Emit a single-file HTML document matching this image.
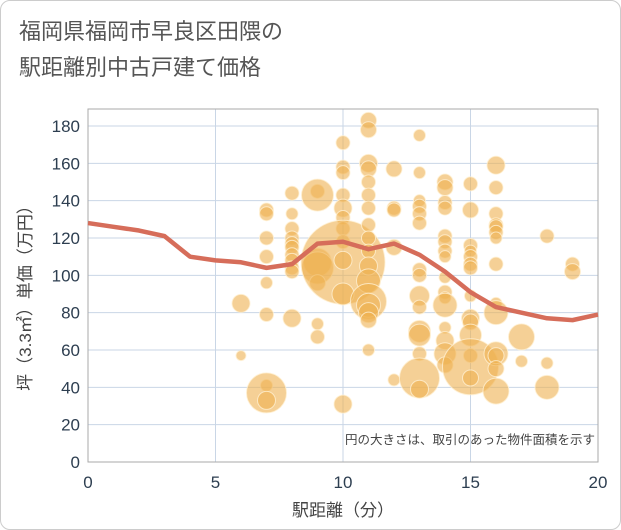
<!DOCTYPE html>
<html><head><meta charset="utf-8"><style>
body{margin:0;background:#fff;font-family:"Liberation Sans","Noto Sans CJK JP",sans-serif}
#wrap{position:relative;width:619px;height:528px;border:1px solid #ccc;border-radius:10px;overflow:hidden;background:#fff}
.title{position:absolute;left:18px;top:13px;font-size:22px;line-height:36px;color:#555}
</style></head><body>
<div id="wrap">
<div class="title">福岡県福岡市早良区田隈の<br>駅距離別中古戸建て価格</div>
<svg id="chart" width="621" height="530" style="position:absolute;left:0;top:0"></svg>
</div>
<script>
const xTicks=[0,5,10,15,20];
const yTicks=[0,20,40,60,80,100,120,140,160,180];
const bubbleX=[6,6,7,7,7,7,7,7,7,7,7,8,8,8,8,8,8,8,8,8,8,8,9,9,9,9,9,9,9,10,10,10,10,10,10,10,10,10,10,10,10,11,11,11,11,11,11,11,11,11,11,11,11,11,11,11,11,11,12,12,12,12,12,13,13,13,13,13,13,13,13,13,13,13,13,13,13,13,14,14,14,14,14,14,14,14,14,14,14,14,14,14,14,14,15,15,15,15,15,15,15,15,15,15,15,15,15,15,16,16,16,16,16,16,16,16,16,16,16,16,16,16,17,17,18,18,18,19,19];
const bubbleY=[85,57,135,133,120,110,96,79,41,37,33,144,133,125,120,117,115,111,108,104,102,77,145,143,107,104,96,74,67,171,158,155,143,136,131,125,118,107,108,90,31,183,178,160,157,150,143,136,127,120,113,105,97,86,84,80,76,60,157,136,135,115,44,175,155,140,137,133,128,103,100,89,83,70,68,58,45,39,150,147,139,136,121,118,113,110,99,91,88,84,72,65,58,52,149,135,116,113,110,106,104,89,77,75,68,57,51,45,159,147,133,127,126,123,120,106,85,80,58,57,50,38,67,54,121,53,40,106,102];
const bubbleR=[9,5,7,7,7,7,6,7,6,20,9,7,6,7,7,7,7,7,7,7,7,9,7,16,14,16,8,6,7,7,7,7,7,9,7,7,7,42,9,11,9,8,8,9,8,7,7,7,7,7,7,9,12,18,12,10,8,6,8,7,7,8,6,6,6,6,7,7,7,7,7,10,7,11,11,7,20,9,8,8,7,7,7,7,7,6,6,7,6,12,6,9,11,8,7,8,7,6,7,7,7,6,9,8,11,7,28,8,9,7,7,7,7,7,6,7,6,12,12,8,8,13,13,6,7,6,12,7,8];
const lineX=[0,1,2,3,4,5,6,7,8,9,10,11,12,13,14,15,16,17,18,19,20];
const lineY=[128,126,124,121,110,108,107,104,106,117,118,114,117,111,102,91,83,80,77,76,79];
const NS="http://www.w3.org/2000/svg";
const svg=document.getElementById('chart');
const X0=87,X1=597,Y0=461,Y1=125;
const sx=v=>X0+(v-0)/20*(X1-X0);
const sy=v=>Y0-(v/180)*(Y0-Y1);
function mk(t,a){const e=document.createElementNS(NS,t);for(const k in a)e.setAttribute(k,a[k]);svg.appendChild(e);return e;}
const bg=mk('rect',{x:X0,y:108,width:X1-X0,height:Y0-108,fill:'#fff'});


yTicks.forEach(t=>{const l=mk('line',{x1:X0,x2:X1,y1:sy(t),y2:sy(t),stroke:'#c9d6e6','stroke-width':1});


const tx=mk('text',{x:X0-8,y:sy(t)+6,'text-anchor':'end','font-size':17,fill:'#2d3e50'});tx.textContent=t;

});
xTicks.forEach(t=>{const l=mk('line',{x1:sx(t),x2:sx(t),y1:108,y2:Y0,stroke:'#c9d6e6','stroke-width':1});


const tx=mk('text',{x:sx(t),y:Y0+26,'text-anchor':'middle','font-size':17,fill:'#2d3e50'});tx.textContent=t;

});
const border=mk('rect',{x:X0,y:108,width:X1-X0,height:Y0-108,fill:'none',stroke:'#aaa','stroke-width':1});


bubbleX.forEach((v,i)=>{const c=mk('circle',{cx:sx(v),cy:sy(bubbleY[i]),r:bubbleR[i],fill:'rgba(238,176,80,0.6)',stroke:'rgba(255,240,210,0.8)','stroke-width':1});

});
const p=mk('polyline',{points:lineX.map((v,i)=>sx(v)+','+sy(lineY[i])).join(' '),fill:'none',stroke:'#d66d5a','stroke-width':4.5,'stroke-linejoin':'round'});


const note=mk('text',{x:594,y:443,'text-anchor':'end','font-size':12.5,fill:'#444'});note.textContent='円の大きさは、取引のあった物件面積を示す';


const xt=mk('text',{x:342,y:515,'text-anchor':'middle','font-size':17,fill:'#444'});xt.textContent='駅距離（分）';


const yt=mk('text',{x:0,y:0,'text-anchor':'middle','font-size':17,fill:'#444',transform:'translate(30,293) rotate(-90)'});yt.textContent='坪（3.3㎡）単価（万円）';


</script>
</body></html>
